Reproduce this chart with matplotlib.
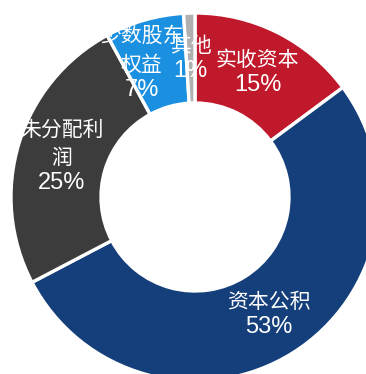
import matplotlib
matplotlib.use('Agg')
import matplotlib.pyplot as plt
import numpy as np

# equity structure, share in percent
names = ['实收资本', '资本公积', '未分配利润', '少数股东权益', '其他']
shares = [15, 53, 25, 7, 1]
label_lines = [['实收资本'], ['资本公积'], ['未分配利', '润'], ['少数股东', '权益'], ['其他']]
colors = ['#c0192b', '#143f7a', '#3c3c3c', '#1b8fe0', '#b0b0b0']

fig = plt.figure(figsize=(3.66, 3.74), dpi=100)
ax = fig.add_axes([0, 0, 1, 1])

cx, cy = 195, 374 - 197
r_out, r_in = 184, 94

wedges, _ = ax.pie(shares, colors=colors, startangle=90, counterclock=False,
                   center=(cx, cy), radius=r_out,
                   wedgeprops=dict(width=r_out - r_in, edgecolor='white', linewidth=2.4))

ax.set_xlim(0, 366)
ax.set_ylim(0, 374)
ax.set_aspect('equal')
ax.axis('off')

# the crowded labels at the top get shifted a bit
nudge = {3: (-15, 0), 4: (0, 0)}
gap_cjk, gap_pct = 28, 25

r_mid = (r_out + r_in) / 2
for i, w in enumerate(wedges):
    ang = np.deg2rad((w.theta1 + w.theta2) / 2)
    dx, dy = nudge.get(i, (0, 0))
    x = cx + r_mid * np.cos(ang) + dx
    y = cy + r_mid * np.sin(ang) + dy
    lines = label_lines[i]
    height = gap_cjk * (len(lines) - 1) + gap_pct
    top = y + height / 2
    for k, s in enumerate(lines):
        ax.text(x, top - k * gap_cjk, s, ha='center', va='center', color='white',
                fontsize=15, family=['Noto Sans CJK SC'])
    ax.text(x, top - height, '{}%'.format(shares[i]), ha='center', va='center',
            color='white', fontsize=17, family=['Liberation Sans'])

fig.savefig('out.png', dpi=100)
